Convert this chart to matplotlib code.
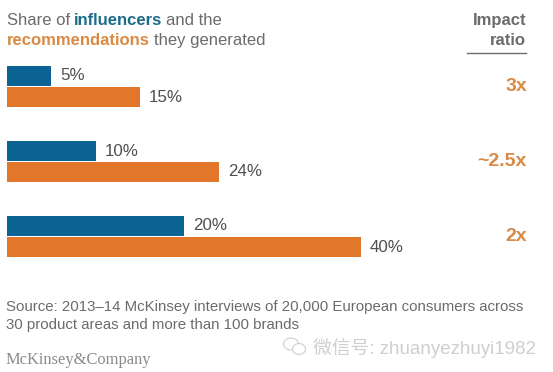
import matplotlib
matplotlib.use('Agg')
import matplotlib.pyplot as plt
from matplotlib.patches import Ellipse

plt.rcParams['font.family'] = ['Liberation Sans', 'Noto Sans CJK SC', 'DejaVu Sans']

# data
influencers = [5, 10, 20]
recommendations = [15, 24, 40]
ratios = ['3x', '~2.5x', '2x']

BLUE = '#0b6393'
ORANGE = '#e2762b'
TEAL = '#1c6b88'
LIGHT_ORANGE = '#d98a45'
GRAY = '#6b6b6d'
DARK = '#4f4f51'

W, H = 553, 372
fig = plt.figure(figsize=(W / 100, H / 100), dpi=100, facecolor='white')

# bars: axes runs 7px..361px for 0..40%, groups are 75px apart
ax = fig.add_axes([7 / W, 1 - 274 / H, 354 / W, 225 / H])
ax.set_xlim(0, 40)
ax.set_ylim(2.5, -0.5)
ax.axis('off')

bar_h = 20 / 75
for i in range(3):
    ax.barh(i - 0.14, influencers[i], height=bar_h, color=BLUE)
    ax.barh(i + 0.14, recommendations[i], height=bar_h, color=ORANGE)
    ax.annotate('%d%%' % influencers[i], (influencers[i], i - 0.14), xytext=(9, 0),
                textcoords='offset pixels', va='center', fontsize=12.2, color=DARK)
    ax.annotate('%d%%' % recommendations[i], (recommendations[i], i + 0.14), xytext=(9, 0),
                textcoords='offset pixels', va='center', fontsize=12.2, color=DARK)
    ax.annotate(ratios[i], (1, i), xycoords=('figure fraction', 'data'), xytext=(-26, 0),
                textcoords='offset pixels', ha='right', va='center', fontsize=14,
                fontweight='bold', color=LIGHT_ORANGE)


def txt(x, y, s, **kw):
    return fig.text(x / W, 1 - y / H, s, **kw)


def chain(x, y, parts, size):
    # mixed colour title line, pieces placed one after another
    r = fig.canvas.get_renderer()
    for s, col, weight in parts:
        t = txt(x, y, s, fontsize=size, color=col, fontweight=weight, va='baseline')
        x += t.get_window_extent(r).width + 3.8


chain(7, 25, [('Share of', GRAY, 'normal'), ('influencers', TEAL, 'bold'),
              ('and the', GRAY, 'normal')], 12)
chain(7, 45, [('recommendations', LIGHT_ORANGE, 'bold'), ('they generated', GRAY, 'normal')], 12)

txt(526, 25, 'Impact', ha='right', va='baseline', fontsize=12, fontweight='bold', color=GRAY)
txt(526, 45, 'ratio', ha='right', va='baseline', fontsize=12, fontweight='bold', color=GRAY)
fig.add_artist(plt.Line2D([467 / W, 526 / W], [1 - 53 / H, 1 - 53 / H], color=GRAY, lw=1))

txt(6, 310.5, 'Source: 2013\u201314 McKinsey interviews of 20,000 European consumers across',
    va='baseline', fontsize=10.85, color=GRAY)
txt(6, 329, '30 product areas and more than 100 brands', va='baseline', fontsize=10.85, color=GRAY)

txt(6, 364, 'McKinsey&Company', va='baseline', fontsize=11.9, color='#8a8a8c', family='Liberation Serif')

# watermark
txt(313, 354, '\u5fae\u4fe1\u53f7: zhuanyezhuyi1982', va='baseline', fontsize=13.5, color='#cfcfcf')
for x, y, w, h in [(291, 344, 15, 12), (299, 349, 13, 11)]:
    fig.add_artist(Ellipse((x / W, 1 - y / H), w / W, h / H, transform=fig.transFigure,
                           fc='white', ec='#cfcfcf', lw=0.8))

fig.savefig('out.png', dpi=100)
